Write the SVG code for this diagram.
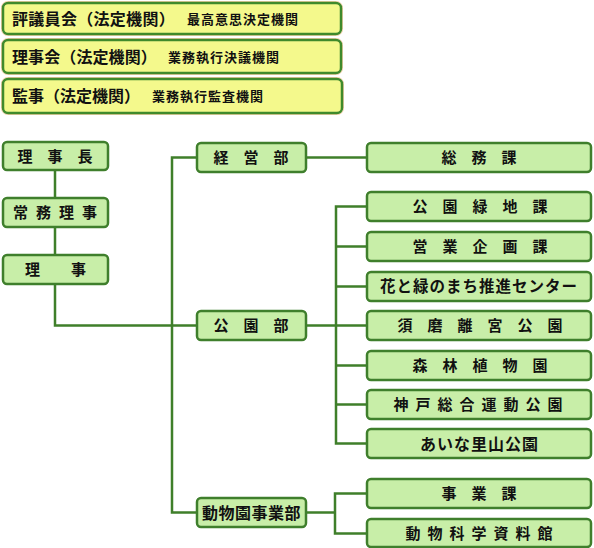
<svg xmlns="http://www.w3.org/2000/svg" width="594" height="548" viewBox="0 0 594 548">
<style>
.top{fill:#f4f98c;stroke:#3f8a2c;stroke-width:2.5}
.nd{fill:#c8eea8;stroke:#3f7f2c;stroke-width:2.5}
.glow{fill:none;stroke:#f6cfa8;stroke-width:1}
.t{font-family:"Noto Sans CJK JP","Noto Sans CJK SC",sans-serif;font-weight:bold;fill:#111}
.big{font-size:16px}
.sub{font-size:13px;letter-spacing:1px}
.n{font-size:15px;text-anchor:middle}
.cn{fill:none;stroke:#3f7f2a;stroke-width:2.5}
</style>
<rect width="594" height="548" fill="#ffffff"/>
<g id="top1">
<rect class="glow" x="1.5" y="1.5" width="341" height="34" rx="6"/>
<rect class="top" x="3" y="3" width="338" height="31" rx="5"/>
<text class="t big" x="12" y="24.5" style="letter-spacing:0.3px">評議員会（法定機関）</text>
<text class="t sub" x="187" y="23.5">最高意思決定機関</text>
</g>
<g id="top2">
<rect class="glow" x="1.5" y="38.5" width="341" height="36" rx="6"/>
<rect class="top" x="3" y="40" width="338" height="33" rx="5"/>
<text class="t big" x="12" y="62.5" style="letter-spacing:0.1px">理事会（法定機関）</text>
<text class="t sub" x="168" y="61.5">業務執行決議機関</text>
</g>
<g id="top3">
<rect class="glow" x="1.5" y="77.5" width="342" height="37" rx="6"/>
<rect class="top" x="3" y="79" width="339" height="34" rx="5"/>
<text class="t big" x="12" y="102">監事（法定機関）</text>
<text class="t sub" x="152" y="101">業務執行監査機関</text>
</g>
<g id="connectors">
<path class="cn" d="M55 170V198M55 227V255M55 284V325.5H197"/>
<path class="cn" d="M197 157.5H172V512.5H197"/>
<path class="cn" d="M306 157.5H367"/>
<path class="cn" d="M306 325.5H367M367 206.5H336V443.5H367M336 246.5H367M336 286.5H367M336 365.5H367M336 404.5H367"/>
<path class="cn" d="M306 512.5H335M367 493.5H335V533.5H367"/>
</g>
<g id="n-rijicho"><rect class="nd" x="3" y="142" width="105" height="28" rx="4"/><text class="t n" x="62.5" y="161.5" style="letter-spacing:15px">理事長</text></g>
<g id="n-jomu"><rect class="nd" x="3" y="198" width="105" height="29" rx="4"/><text class="t n" x="59" y="218" style="letter-spacing:8px">常務理事</text></g>
<g id="n-riji"><rect class="nd" x="3" y="255" width="105" height="29" rx="4"/><text class="t n" x="71" y="275" style="letter-spacing:31px">理事</text></g>
<g id="n-keiei"><rect class="nd" x="197" y="143" width="109" height="29" rx="4"/><text class="t n" x="258.5" y="163" style="letter-spacing:15px">経営部</text></g>
<g id="n-koen"><rect class="nd" x="197" y="311" width="109" height="29" rx="4"/><text class="t n" x="258.5" y="331" style="letter-spacing:15px">公園部</text></g>
<g id="n-dobutsuen"><rect class="nd" x="197" y="498" width="109" height="29" rx="4"/><text class="t n" x="251.5" y="518.5" style="font-size:16px;letter-spacing:0.5px">動物園事業部</text></g>
<g id="n-somu"><rect class="nd" x="367" y="143" width="224" height="29" rx="4"/><text class="t n" x="486.5" y="163" style="letter-spacing:15px">総務課</text></g>
<g id="n-ryokuchi"><rect class="nd" x="367" y="192" width="224" height="29" rx="4"/><text class="t n" x="487.5" y="212" style="letter-spacing:15px">公園緑地課</text></g>
<g id="n-eigyo"><rect class="nd" x="367" y="232" width="224" height="29" rx="4"/><text class="t n" x="487.5" y="252" style="letter-spacing:15px">営業企画課</text></g>
<g id="n-hana"><rect class="nd" x="367" y="272" width="224" height="29" rx="4"/><text class="t n" x="479" y="292" style="font-size:15.5px;letter-spacing:1px">花と緑のまち推進センター</text></g>
<g id="n-suma"><rect class="nd" x="367" y="311" width="224" height="29" rx="4"/><text class="t n" x="487.5" y="331" style="letter-spacing:15px">須磨離宮公園</text></g>
<g id="n-shinrin"><rect class="nd" x="367" y="351" width="224" height="29" rx="4"/><text class="t n" x="487.5" y="371" style="letter-spacing:15px">森林植物園</text></g>
<g id="n-sogo"><rect class="nd" x="367" y="390" width="224" height="29" rx="4"/><text class="t n" x="481.5" y="410" style="letter-spacing:7px">神戸総合運動公園</text></g>
<g id="n-aina"><rect class="nd" x="367" y="429" width="224" height="29" rx="4"/><text class="t n" x="479.5" y="449.5" style="font-size:16px;letter-spacing:1px">あいな里山公園</text></g>
<g id="n-jigyo"><rect class="nd" x="367" y="479" width="224" height="29" rx="4"/><text class="t n" x="486.5" y="499" style="letter-spacing:15px">事業課</text></g>
<g id="n-kagaku"><rect class="nd" x="367" y="519" width="224" height="28" rx="4"/><text class="t n" x="482.5" y="538.5" style="letter-spacing:7px">動物科学資料館</text></g>
</svg>
